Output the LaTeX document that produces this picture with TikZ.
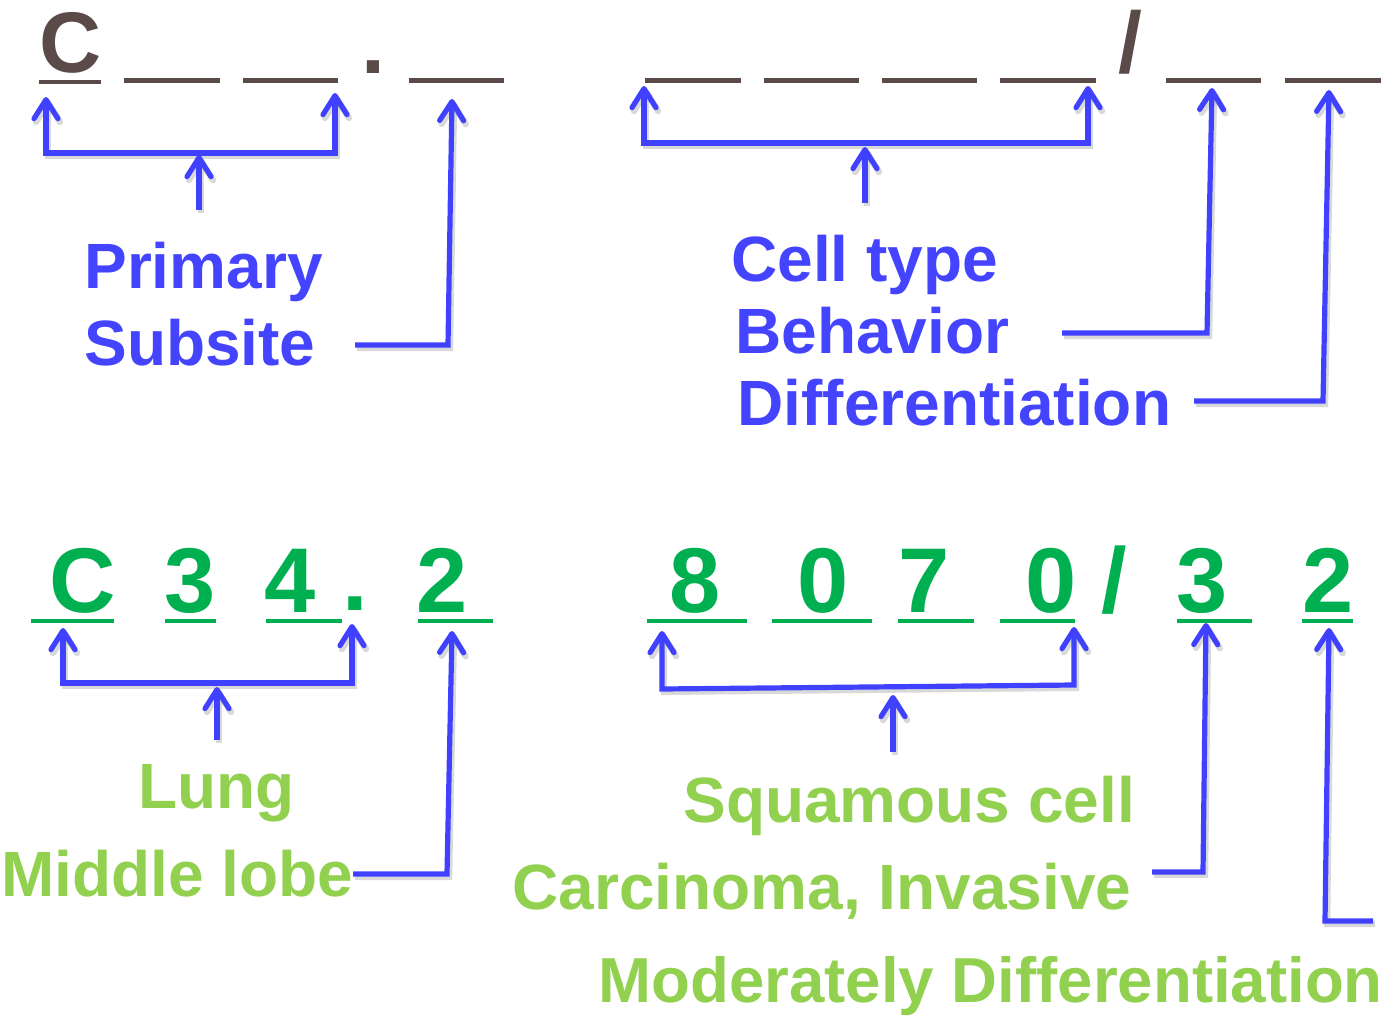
\documentclass[tikz,border=0pt]{standalone}
\usepackage{fontspec}
\setmainfont{Liberation Sans}
\usetikzlibrary{arrows.meta}
\definecolor{codebrown}{RGB}{90,74,72}
\definecolor{codegreen}{RGB}{0,176,80}
\definecolor{labelgreen}{RGB}{146,208,80}
\definecolor{labelblue}{RGB}{68,68,255}
\definecolor{wireblue}{RGB}{64,64,255}
\tikzset{
  glyph/.style={inner sep=0pt, anchor=base, font=\bfseries\fontsize{43pt}{43pt}\selectfont, text=codebrown},
  bigdigit/.style={inner sep=0pt, anchor=base, font=\bfseries\fontsize{46pt}{46pt}\selectfont, text=codegreen},
  bluelabel/.style={inner sep=0pt, anchor=base west, font=\bfseries\fontsize{32pt}{32pt}\selectfont, text=labelblue},
  greenlabel/.style={inner sep=0pt, anchor=base west, font=\bfseries\fontsize{32pt}{32pt}\selectfont, text=labelgreen},
  blankrule/.style={draw=codebrown, line width=2.2pt},
  digitrule/.style={draw=codegreen, line width=2.2pt},
  barb/.tip={Straight Barb[length=9.5pt,width=12pt,line cap=round,line join=round]},
  conn/.style={draw=wireblue, line width=2.6pt, line join=miter,
    arrows={-barb},
    preaction={draw=black, opacity=0.15, line width=3.2pt,
      transform canvas={shift={(1pt,-1.4pt)}}}},
  bothconn/.style={conn, arrows={barb-barb}}
}
\begin{document}
\begin{tikzpicture}[x=0.5pt,y=-0.5pt]
\useasboundingbox (0,0) rectangle (1392,1017);

% ---------- code template: C _ _ . _   _ _ _ _ / _ _ ----------
\node[glyph] (tC) at (70.5,72) {C};
\node[glyph] (tdot) at (373.5,73) {.};
\node[glyph] (tslash) at (1130,72) {/};
\draw[blankrule] (39,82) -- (101,82);
\draw[blankrule] (124,80.5) -- (220,80.5);
\draw[blankrule] (243,80.5) -- (338,80.5);
\draw[blankrule] (409,80.5) -- (504,80.5);
\draw[blankrule] (645,80.5) -- (741,80.5);
\draw[blankrule] (764,80.5) -- (859,80.5);
\draw[blankrule] (882,80.5) -- (977,80.5);
\draw[blankrule] (1000,80.5) -- (1096,80.5);
\draw[blankrule] (1166,80.5) -- (1261,80.5);
\draw[blankrule] (1285,80.5) -- (1381,80.5);

% ---------- template labels ----------
\node[bluelabel] (prim) at (84,288) {Primary};
\node[bluelabel] (subs) at (84,365) {Subsite};
\node[bluelabel] (cell) at (731,281) {Cell type};
\node[bluelabel] (behav) at (735,353) {Behavior};
\node[bluelabel] (diff) at (737,425) {Differentiation};

% template connectors
\coordinate (pa) at (46,97);   \coordinate (pb) at (335,93);
\coordinate (pm) at (199,155); \coordinate (pfoot) at (199,210);
\coordinate (sa) at (452,99);  \coordinate (sfoot) at (355,345);
\coordinate (ca) at (644,86);  \coordinate (cb) at (1088,86);
\coordinate (cm) at (865,147); \coordinate (cfoot) at (865,203);
\coordinate (ba) at (1212,88); \coordinate (bfoot) at (1062,333);
\coordinate (da) at (1329,90); \coordinate (dfoot) at (1194,401);

\draw[bothconn] (pa) -- (46,153) -- (335,153) -- (pb);
\draw[conn] (pfoot) -- (pm);
\draw[conn] (sfoot) -- (448,345) -- (sa);
\draw[bothconn] (ca) -- (644,143) -- (1088,143) -- (cb);
\draw[conn] (cfoot) -- (cm);
\draw[conn] (bfoot) -- (1207,333) -- (ba);
\draw[conn] (dfoot) -- (1323,401) -- (da);

% ---------- example code: C34.2  8070/32 ----------
\node[bigdigit] (eC) at (82.5,612) {C};
\node[bigdigit] (e3) at (190.5,612) {3};
\node[bigdigit] (e4) at (290.5,612) {4};
\node[bigdigit] (edot) at (355,610) {.};
\node[bigdigit] (e2) at (442.5,612) {2};
\node[bigdigit] (m8) at (695.5,612) {8};
\node[bigdigit] (m0a) at (823.5,612) {0};
\node[bigdigit] (m7) at (924,612) {7};
\node[bigdigit] (m0b) at (1051,612) {0};
\node[bigdigit] (mslash) at (1114,612) {/};
\node[bigdigit] (m3) at (1202,612) {3};
\node[bigdigit] (m2) at (1328.5,612) {2};
\draw[digitrule] (31,621) -- (114,621);
\draw[digitrule] (165,621) -- (216,621);
\draw[digitrule] (266,621) -- (342,621);
\draw[digitrule] (418,621) -- (493,621);
\draw[digitrule] (647,621) -- (747,621);
\draw[digitrule] (772,621) -- (872,621);
\draw[digitrule] (898,621) -- (974,621);
\draw[digitrule] (1000,621) -- (1075,621);
\draw[digitrule] (1177,621) -- (1252,621);
\draw[digitrule] (1302,621) -- (1353,621);

% ---------- example labels ----------
\node[greenlabel] (lung) at (138,808) {Lung};
\node[greenlabel] (lobe) at (1,896) {Middle lobe};
\node[greenlabel] (squam) at (683,822) {Squamous cell};
\node[greenlabel] (carc) at (512,909) {Carcinoma, Invasive};
\node[greenlabel, font=\bfseries\fontsize{31.8pt}{31.8pt}\selectfont] (moder) at (598,1002) {Moderately Differentiation};

% example connectors
\coordinate (la) at (63,628);   \coordinate (lb) at (352,624);
\coordinate (lm) at (217,687);  \coordinate (lfoot) at (217,740);
\coordinate (ma) at (452,631);  \coordinate (mfoot) at (353,874);
\coordinate (qa) at (662,631);  \coordinate (qb) at (1074,627);
\coordinate (qm) at (893,695);  \coordinate (qfoot) at (893,752);
\coordinate (ia) at (1206,623); \coordinate (ifoot) at (1152,872);
\coordinate (oa) at (1329,628); \coordinate (ofoot) at (1373,921);

\draw[bothconn] (la) -- (63,683) -- (352,683) -- (lb);
\draw[conn] (lfoot) -- (lm);
\draw[conn] (mfoot) -- (447,874) -- (ma);
\draw[bothconn] (qa) -- (662,689) -- (1074,685) -- (qb);
\draw[conn] (qfoot) -- (qm);
\draw[conn] (ifoot) -- (1203,872) -- (ia);
\draw[conn] (ofoot) -- (1325,921) -- (oa);
\end{tikzpicture}
\end{document}
